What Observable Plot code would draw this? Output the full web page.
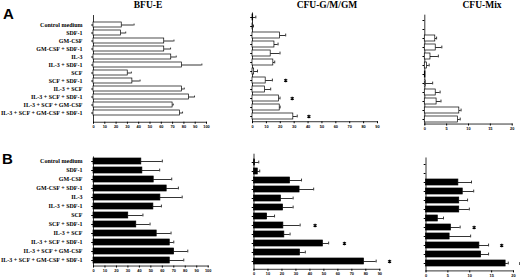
<!DOCTYPE html>
<html><head><meta charset="utf-8">
<script src="https://cdn.jsdelivr.net/npm/d3@7"></script>
<script src="https://cdn.jsdelivr.net/npm/@observablehq/plot@0.6"></script>
<style>
body{margin:0;background:#fff;}
#root{position:relative;width:520px;height:280px;overflow:hidden;background:#fff;}
#root svg{position:absolute;left:0;top:0;}
.lbl{position:absolute;font-family:"Liberation Sans",Arial,sans-serif;font-weight:bold;font-size:15px;line-height:15px;}
.ttl{position:absolute;font-family:"Liberation Serif","Times New Roman",serif;font-weight:bold;font-size:9.5px;line-height:10px;transform:translateX(-50%);white-space:nowrap;}
</style></head><body><div id="root"></div>
<script>
const categories = ["Control medium","SDF-1","GM-CSF","GM-CSF + SDF-1","IL-3","IL-3 + SDF-1","SCF","SCF + SDF-1","IL-3 + SCF","IL-3 + SCF + SDF-1","IL-3 + SCF + GM-CSF","IL-3 + SCF + GM-CSF + SDF-1"];
const panelTitles = ["BFU-E","CFU-G/M/GM","CFU-Mix"];
const rowLetters = ["A","B"];
const ticksBFU = [0,10,20,30,40,50,60,70,80,90,100];
const ticksCFU = [0,10,20,30,40,50,60,70,80,90];
const ticksMix = [0,5,10,15,20];

// Panel A (no serum) – open bars
const aBfuValues = [25,24.4,62.6,62.6,68.8,78.2,30.3,34.4,78.2,84.4,70,76.5];
const aBfuErrors = [10.9,4.1,8.6,5.6,4.4,17.7,3.2,6.8,2.1,5,0.6,2.3];
const aCfuValues = [0.5,0.3,19.8,15.8,13.1,15,1.2,9.5,9.1,19.1,19.6,29.4];
const aCfuErrors = [1.9,0.4,4.1,2.6,6.7,1,2.4,4.8,4,0.7,0.3,2.8];
const aCfuStars  = [null,null,null,null,null,null,null,23.9,null,28.6,null,40.6];
const aMixValues = [null,null,2.4,2.5,1.3,0.5,0.15,0.2,2.5,2.7,7.9,7.6];
const aMixErrors = [null,null,0.3,1.4,1.8,0.5,0,1.6,1.0,1.0,0.4,0.5];

// Panel B – filled bars
const bBfuValues = [41.7,42.6,52.5,63.8,58.3,52.2,30.3,37.3,55.1,66.5,70.3,66.5];
const bBfuErrors = [18.3,15.1,15.7,10.2,19,7,12.8,12,12.5,3.5,11.9,12.2];
const bCfuValues = [0.7,2.7,25.8,32.6,19.3,20.8,9.4,21,21.7,49.3,32.9,78.7];
const bCfuErrors = [2.7,1.4,8.2,10.1,8.7,7.2,5.3,12,4.1,4.1,3.8,8.7];
const bCfuStars  = [null,null,null,null,null,null,null,43.7,null,64.7,null,97];
const bMixValues = [null,null,7.4,8.4,7.6,7.6,2.7,5.7,5.4,12.2,12.6,18.2];
const bMixErrors = [null,null,3,2.5,1.9,2.3,1.3,2.1,4.8,2.1,1.7,0.6];
const bMixStars  = [null,null,null,null,null,null,null,11,null,17.3,null,21.7];

const W = 520, H = 280;
function panel({values, errors, stars, max, ticks, fill, x0, x1, row0, rowN, labels}) {
  const n = categories.length;
  const step = (rowN - row0) / (n - 1);
  const data = categories.map((c, i) => ({c, v: values[i], e: errors[i], s: stars ? stars[i] : null}));
  const bars = data.filter(d => d.v != null);
  const errs = bars.filter(d => d.e);
  const starData = data.filter(d => d.s != null);
  return Plot.plot({
    width: W, height: H,
    marginLeft: x0, marginRight: W - x1,
    marginTop: row0 - step / 2, marginBottom: H - (rowN + step / 2),
    style: {background: "transparent", overflow: "visible"},
    x: {domain: [0, max]},
    y: {domain: categories, paddingInner: 0.32, paddingOuter: 0.16, align: 0.5},
    marks: [
      Plot.axisX({ticks, tickSize: 2, tickPadding: 1.2, fontSize: 3.9, fontWeight: "bold",
        fontFamily: "Liberation Sans, Arial, sans-serif", label: null}),
      Plot.axisY({tickSize: 1.8, tickPadding: labels ? 9.2 : 1, label: null,
        tickFormat: labels ? (d => d) : (() => ""), fontSize: 6, fontWeight: "bold",
        fontFamily: "Liberation Serif, Times New Roman, serif"}),
      Plot.frame({anchor: "left", strokeWidth: 0.8}),
      Plot.frame({anchor: "bottom", strokeWidth: 0.8}),
      Plot.ruleY(errs, {y: "c", x1: "v", x2: d => d.v + d.e, strokeWidth: 0.8}),
      Plot.tickX(errs, {y: "c", x: d => d.v + d.e, insetTop: 1.6, insetBottom: 1.6, strokeWidth: 0.8}),
      Plot.barX(bars, {y: "c", x: "v", fill, stroke: "black", strokeWidth: 0.7}),
      Plot.dot(starData, {y: "c", x: "s", symbol: "asterisk", r: 1.7, stroke: "black", strokeWidth: 1.2})
    ]
  });
}

const root = document.getElementById("root");
const specs = [
  {values: aBfuValues, errors: aBfuErrors, max: 100, ticks: ticksBFU, fill: "white", x0: 93, x1: 206, row0: 19.5, rowN: 117.3, labels: true},
  {values: aCfuValues, errors: aCfuErrors, stars: aCfuStars, max: 90, ticks: ticksCFU, fill: "white", x0: 252, x1: 377, row0: 17, rowN: 116.7},
  {values: aMixValues, errors: aMixErrors, max: 20, ticks: ticksMix, fill: "white", x0: 424.3, x1: 511.7, row0: 19.2, rowN: 119},
  {values: bBfuValues, errors: bBfuErrors, max: 100, ticks: ticksBFU, fill: "black", x0: 93, x1: 207.7, row0: 161, rowN: 261, labels: true},
  {values: bCfuValues, errors: bCfuErrors, stars: bCfuStars, max: 90, ticks: ticksCFU, fill: "black", x0: 253.5, x1: 379.3, row0: 158.5, rowN: 264},
  {values: bMixValues, errors: bMixErrors, stars: bMixStars, max: 20, ticks: ticksMix, fill: "black", x0: 425.5, x1: 513, row0: 162.2, rowN: 265.7}
];
for (const s of specs) root.appendChild(panel(s));

const titlePos = [148, 327, 482];
panelTitles.forEach((t, i) => {
  const d = document.createElement("div");
  d.className = "ttl"; d.textContent = t;
  d.style.left = titlePos[i] + "px"; d.style.top = "0.3px";
  root.appendChild(d);
});
const letterPos = [[3, 5.6], [2, 150.6]];
rowLetters.forEach((t, i) => {
  const d = document.createElement("div");
  d.className = "lbl"; d.textContent = t;
  d.style.left = letterPos[i][0] + "px"; d.style.top = letterPos[i][1] + "px";
  root.appendChild(d);
});
</script>
</body></html>
